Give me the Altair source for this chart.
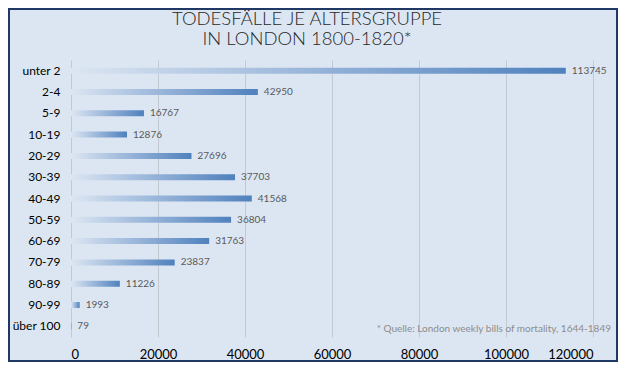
import altair as alt
import pandas as pd

categories = ["unter 2", "2-4", "5-9", "10-19", "20-29", "30-39", "40-49",
              "50-59", "60-69", "70-79", "80-89", "90-99", "über 100"]
deaths = [113745, 42950, 16767, 12876, 27696, 37703, 41568,
          36804, 31763, 23837, 11226, 1993, 79]
x_ticks = [0, 20000, 40000, 60000, 80000, 100000, 120000]
title_text = "TODESFÄLLE JE ALTERSGRUPPE\nIN LONDON 1800-1820*"
footnote = "* Quelle: London weekly bills of mortality, 1644-1849"

df = pd.DataFrame({"Altersgruppe": categories, "Todesfälle": deaths})

BG = "#DCE6F2"
BLUE = "#4F81BD"

gradient = alt.Gradient(
    gradient="linear",
    stops=[alt.GradientStop(color=BG, offset=0),
           alt.GradientStop(color="#8FAED6", offset=0.55),
           alt.GradientStop(color=BLUE, offset=1)],
    x1=0, x2=1, y1=0, y2=0,
)

y_enc = alt.Y("Altersgruppe:N", sort=categories,
              scale=alt.Scale(paddingInner=0.3, paddingOuter=0.15),
              axis=alt.Axis(title=None, domain=False, ticks=False,
                            labelFont="Lato", labelFontSize=12, labelColor="#000000",
                            labelPadding=11, grid=False))
x_enc = alt.X("Todesfälle:Q", scale=alt.Scale(domain=[0, 120000], nice=False),
              axis=alt.Axis(title=None, values=x_ticks, format="d", domain=False,
                            ticks=False, labelFont="Lato", labelFontSize=13,
                            labelColor="#000000", labelPadding=11,
                            grid=True, gridColor="#C3C9D1", gridWidth=1))

bars = alt.Chart(df).mark_bar(size=6, color=gradient).encode(x=x_enc, y=y_enc)

labels = alt.Chart(df).mark_text(align="left", baseline="middle", dx=6,
                                 font="Lato", fontSize=10, color="#595959").encode(
    x="Todesfälle:Q", y=alt.Y("Altersgruppe:N", sort=categories), text="Todesfälle:Q")

note = alt.Chart(pd.DataFrame({"t": [footnote]})).mark_text(
    align="right", baseline="middle", font="Lato", fontSize=10, color="#8C8C8C").encode(
    x=alt.value(540), y=alt.value(269), text="t:N")

title = alt.Chart(pd.DataFrame({"t": [title_text]})).mark_text(
    align="center", baseline="alphabetic", lineBreak="\n", lineHeight=20,
    font="Lato", fontSize=18.5, fontWeight=300, color="#262626").encode(
    x=alt.value(236), y=alt.value(-35), text="t:N")

frame = alt.Chart(pd.DataFrame({"f": [0]})).mark_rect(
    fill=None, stroke="#1F3864", strokeWidth=2).encode(
    x=alt.value(-62), x2=alt.value(546), y=alt.value(-51), y2=alt.value(301))

chart = alt.layer(bars, labels, note, title, frame).properties(
    width=522, height=277,
    padding={"left": 63, "top": 52, "right": 25, "bottom": 25},
    autosize=alt.AutoSizeParams(type="none"),
    background=BG,
).configure_view(stroke=None)

chart.save("out.html", embed_options={"renderer": "svg", "actions": False})
